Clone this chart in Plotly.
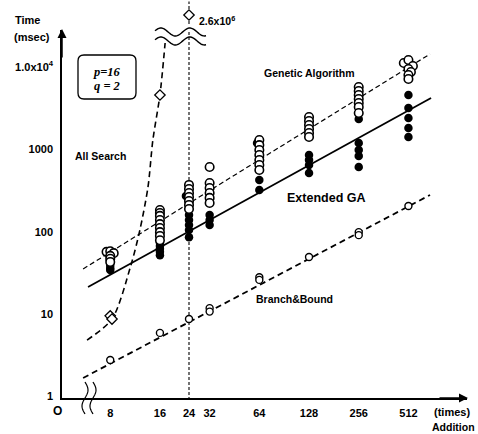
import numpy as np
import plotly.graph_objects as go

# ---------------- data ----------------
ga_x = [7.6, 8.0, 8.4, 8, 8, 8,
        16, 16, 16, 16, 16, 16, 16, 16, 16,
        24, 24, 24, 24, 24, 24, 24,
        32, 32, 32, 32, 32, 32,
        64, 64, 64, 64, 64, 64, 64,
        128, 128, 128, 128, 128, 128,
        256, 256, 256, 256, 256, 256, 256,
        480, 512, 545, 512, 530, 512, 512]
ga_y = [57, 58, 55, 51, 47, 43,
        184, 169, 156, 139, 124, 111, 99, 89, 79,
        371, 331, 296, 265, 237, 212, 189,
        614, 392, 340, 296, 258, 224,
        1303, 1132, 985, 857, 746, 649, 564,
        2483, 2219, 1985, 1774, 1585, 1418,
        5754, 5143, 4599, 4111, 3673, 3287, 2780,
        11270, 12250, 10360, 9528, 8750, 8054, 7194]

ega_x = [8, 8, 8,
         16, 16, 16, 16, 16,
         23, 24, 24, 24, 24, 24,
         32, 32, 32,
         62, 64, 64,
         128, 128, 128, 128,
         256, 256, 256, 256, 256,
         512, 512, 512, 512, 512]
ega_y = [39.5, 36.3, 34.4,
         73, 67, 62, 57, 52,
         272, 160, 139, 121, 105, 86,
         160, 139, 121,
         1199, 427, 322,
         859, 746, 649, 519,
         2350, 1199, 985, 833, 614,
         4600, 3199, 2415, 1828, 1419]

bb_x = [8, 16, 24, 32, 32, 64, 64, 128, 256, 256, 512]
bb_y = [2.76, 5.9, 8.7, 11.8, 10.7, 28, 26, 49.4, 99, 91, 206]

as_x = [8, 8.2, 16]
as_y = [9.5, 8.7, 4600]
as_far_x = [24]
as_far_y = [2.6e6]

# fitted trend lines (end points)
ga_fit_x = [5.48, 692]
ga_fit_y = [35.3, 14490]
ega_fit_x = [5.87, 702]
ega_fit_y = [21.3, 4236]
bb_fit_x = [5.48, 692]
bb_fit_y = [1.67, 280]
as_curve_x = [5.79, 8.2, 10.6, 12.1, 13.55, 14.5, 16, 17.2]
as_curve_y = [4.83, 8.7, 37.3, 105, 351, 1306, 4600, 19700]

x_tick_vals = [8, 16, 24, 32, 64, 128, 256, 512]
x_tick_text = ["8", "16", "24", "32", "64", "128", "256", "512"]
y_tick_vals = [1, 10, 100, 1000, 10000]
y_tick_text = ["1", "10", "100", "1000", "1.0x10<sup>4</sup>"]

# ---------------- layout geometry ----------------
W, H = 478, 434
L, R, T, B = 62, 11, 0, 36
PW, PH = W - L - R, H - T - B


def PX(x):
    return (x - L) / PW


def PY(y):
    return (H - B - y) / PH


ydom_top = PY(30)
FONT = "Liberation Sans"

fig = go.Figure()

# trend lines
fig.add_trace(go.Scatter(x=ga_fit_x, y=ga_fit_y, mode="lines",
                         line=dict(color="black", width=1.2, dash="5px,3px")))
fig.add_trace(go.Scatter(x=ega_fit_x, y=ega_fit_y, mode="lines",
                         line=dict(color="black", width=1.8)))
fig.add_trace(go.Scatter(x=bb_fit_x, y=bb_fit_y, mode="lines",
                         line=dict(color="black", width=1.8, dash="6px,4px")))
fig.add_trace(go.Scatter(x=as_curve_x, y=as_curve_y, mode="lines",
                         line=dict(color="black", width=1.6, dash="6px,4px",
                                   shape="spline", smoothing=0.8)))

# vertical dashed line at 24
fig.add_trace(go.Scatter(x=[24, 24], y=[0.9, 3e4], mode="lines",
                         line=dict(color="black", width=1.1, dash="3px,2px")))
fig.add_trace(go.Scatter(x=[24, 24], y=[1.5e6, 6.0e6], mode="lines", yaxis="y2",
                         line=dict(color="black", width=1.1, dash="3px,2px")))

# markers
fig.add_trace(go.Scatter(x=ega_x, y=ega_y, mode="markers",
                         marker=dict(symbol="circle", size=8.5, color="black")))
fig.add_trace(go.Scatter(x=ga_x, y=ga_y, mode="markers",
                         marker=dict(symbol="circle", size=8.5, color="white",
                                     line=dict(color="black", width=1.6))))
fig.add_trace(go.Scatter(x=bb_x, y=bb_y, mode="markers",
                         marker=dict(symbol="circle", size=7, color="white",
                                     line=dict(color="black", width=1.4))))
fig.add_trace(go.Scatter(x=as_x, y=as_y, mode="markers",
                         marker=dict(symbol="diamond", size=8, color="white",
                                     line=dict(color="black", width=1.3))))
fig.add_trace(go.Scatter(x=as_far_x, y=as_far_y, mode="markers", yaxis="y2",
                         marker=dict(symbol="diamond", size=8, color="white",
                                     line=dict(color="black", width=1.3))))

shapes = []
# broken-axis wavy marks near the top
for yc in (32, 41):
    xs = np.linspace(155, 206, 40)
    ys = yc - 4 * np.sin(2 * np.pi * (xs - 155) / 29 + 0.3)
    d = "M " + " L ".join(f"{PX(a):.4f},{PY(b):.4f}" for a, b in zip(xs, ys))
    shapes.append(dict(type="path", path=d, xref="paper", yref="paper",
                       line=dict(color="black", width=1.4)))
# broken-axis marks on the x axis
for xc in (85, 93):
    ys = np.linspace(382, 414, 30)
    xs = xc + 3 * np.sin(2 * np.pi * (ys - 382) / 32)
    d = "M " + " L ".join(f"{PX(a):.4f},{PY(b):.4f}" for a, b in zip(xs, ys))
    shapes.append(dict(type="path", path=d, xref="paper", yref="paper",
                       line=dict(color="black", width=1.2)))
# rounded box for p, q
x0, x1, y0, y1, r = 78, 136, 55, 99, 6
pts = [("M", x0 + r, y0), ("L", x1 - r, y0), ("Q", x1, y0, x1, y0 + r),
       ("L", x1, y1 - r), ("Q", x1, y1, x1 - r, y1), ("L", x0 + r, y1),
       ("Q", x0, y1, x0, y1 - r), ("L", x0, y0 + r), ("Q", x0, y0, x0 + r, y0)]
segs = []
for p in pts:
    if p[0] == "Q":
        segs.append(f"Q {PX(p[1]):.4f},{PY(p[2]):.4f} {PX(p[3]):.4f},{PY(p[4]):.4f}")
    else:
        segs.append(f"{p[0]} {PX(p[1]):.4f},{PY(p[2]):.4f}")
shapes.append(dict(type="path", path=" ".join(segs) + " Z", xref="paper", yref="paper",
                   line=dict(color="black", width=1.3)))

ann = []


def text(s, x, y, size=11, xanchor="left", family=FONT, bold=True):
    ann.append(dict(text=(f"<b>{s}</b>" if bold else s), x=PX(x), y=PY(y),
                    xref="paper", yref="paper", showarrow=False,
                    xanchor=xanchor, yanchor="middle",
                    font=dict(family=family, size=size, color="black")))


text("Time", 13, 20)
text("(msec)", 12, 37)
text("O", 57, 411, size=12, xanchor="center")
text("(times)", 432, 412)
text("Addition", 477, 427, size=10.5, xanchor="right")
text("Genetic Algorithm", 262, 73, size=10.5)
text("Extended GA", 285, 198, size=12.5)
text("All Search", 73, 156, size=10.5)
text("Branch&amp;Bound", 254, 299, size=10.5)
text("2.6x10<sup>6</sup>", 197, 20, size=10.5)
text("<i>p=16</i>", 107, 72, size=12.5, xanchor="center", family="Liberation Serif")
text("<i>q = 2</i>", 107, 86, size=12.5, xanchor="center", family="Liberation Serif")

# axis arrows
ann.append(dict(x=PX(62), y=PY(29), ax=0, ay=30, xref="paper", yref="paper",
                axref="pixel", ayref="pixel", showarrow=True, arrowhead=2,
                arrowsize=1.2, arrowwidth=1.5, arrowcolor="black", text=""))
ann.append(dict(x=PX(468), y=PY(398), ax=-30, ay=0, xref="paper", yref="paper",
                axref="pixel", ayref="pixel", showarrow=True, arrowhead=2,
                arrowsize=1.2, arrowwidth=1.5, arrowcolor="black", text=""))

fig.update_layout(
    width=W, height=H,
    margin=dict(l=L, r=R, t=T, b=B),
    paper_bgcolor="white", plot_bgcolor="white",
    showlegend=False,
    font=dict(family=FONT, color="black"),
    xaxis=dict(type="log", range=[0.611, 3.064], showgrid=False, zeroline=False,
               showline=True, linecolor="black", linewidth=1.5,
               tickmode="array", tickvals=x_tick_vals, ticktext=x_tick_text,
               ticks="", tickfont=dict(family=FONT, size=11, weight="bold"),
               ticklabelstandoff=4),
    yaxis=dict(type="log", range=[-0.0207, 4.453], domain=[0, ydom_top],
               showgrid=False, zeroline=False,
               showline=True, linecolor="black", linewidth=1.5,
               tickmode="array", tickvals=y_tick_vals, ticktext=y_tick_text,
               ticks="", tickfont=dict(family=FONT, size=11, weight="bold"),
               ticklabelstandoff=5),
    yaxis2=dict(type="log", range=[6.015, 6.815], domain=[ydom_top, 1],
                visible=False, showgrid=False),
    shapes=shapes,
    annotations=ann,
)

fig.write_html("out.html", config={"displayModeBar": False},
               post_script="document.body.style.margin='0';document.body.style.overflow='hidden';")
